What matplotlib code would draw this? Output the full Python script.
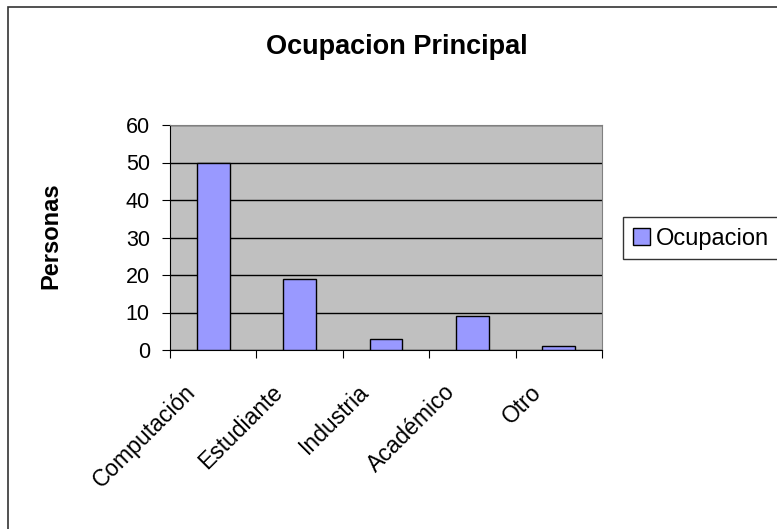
import numpy as np
import matplotlib.pyplot as plt
from matplotlib.patches import Rectangle
from matplotlib.transforms import ScaledTranslation

plt.rcParams['font.family'] = ['Liberation Sans', 'DejaVu Sans']

# Datos
categorias = ["Computación", "Estudiante", "Industria", "Académico", "Otro"]
personas = [50, 19, 3, 9, 1]
serie = "Ocupacion"

W, H = 777, 529
fig = plt.figure(figsize=(W / 100, H / 100), dpi=100)

# Borde exterior del gráfico (se sale por la derecha y por abajo)
fig.patches.append(Rectangle((8 / W, -0.5), 1.2, 1.5 - 7 / H, transform=fig.transFigure,
                             fill=False, edgecolor='#333333', linewidth=1.2))

ax = fig.add_axes([170 / W, 1 - 350 / H, 432 / W, 225 / H])
ax.set_facecolor('#C0C0C0')

x = np.arange(len(categorias))
ax.bar(x, personas, width=0.38, color='#9999FF', edgecolor='black', linewidth=1,
       label=serie, zorder=3)

ax.set_xlim(-0.5, len(categorias) - 0.5)
ax.set_ylim(0, 60)
ax.set_yticks(range(0, 61, 10))
ax.grid(axis='y', color='black', linewidth=1, zorder=1)
ax.set_axisbelow(True)

ax.set_xticks(np.arange(-0.5, len(categorias), 1))
ax.set_xticklabels([])
ax.set_xticks(x, minor=True)
ax.set_xticklabels(categorias, minor=True, rotation=45, ha='right', va='top',
                   rotation_mode='anchor', fontsize=16.5)
ax.tick_params(axis='x', which='minor', length=0, pad=22)
ax.tick_params(axis='x', which='major', length=6, color='black')
ax.tick_params(axis='y', length=6, labelsize=15.5, pad=8.5)
shift = ScaledTranslation(-29 / 100, 0, fig.dpi_scale_trans)
for lbl in ax.get_xticklabels(minor=True):
    lbl.set_transform(lbl.get_transform() + shift)

for s in ['top', 'right']:
    ax.spines[s].set_color('#808080')
for s in ['left', 'bottom']:
    ax.spines[s].set_color('black')

fig.text(51 / W, 1 - 236 / H, "Personas", fontsize=17, fontweight='bold',
         rotation=90, ha='center', va='center')
fig.text(397 / W, 1 - 47 / H, "Ocupacion Principal", fontsize=19.5, fontweight='bold',
         ha='center', va='center')

# Leyenda
fig.patches.append(Rectangle((623 / W, 1 - 259 / H), 0.3, 42 / H, transform=fig.transFigure,
                             fill=True, facecolor='white', edgecolor='#333333', linewidth=1))
fig.legend(loc='center left', bbox_to_anchor=(633 / W, 1 - 239 / H), frameon=False,
           fontsize=17, handlelength=0.7, handleheight=0.7, handletextpad=0.25,
           borderpad=0, borderaxespad=0)

fig.savefig("out.png", dpi=100)
